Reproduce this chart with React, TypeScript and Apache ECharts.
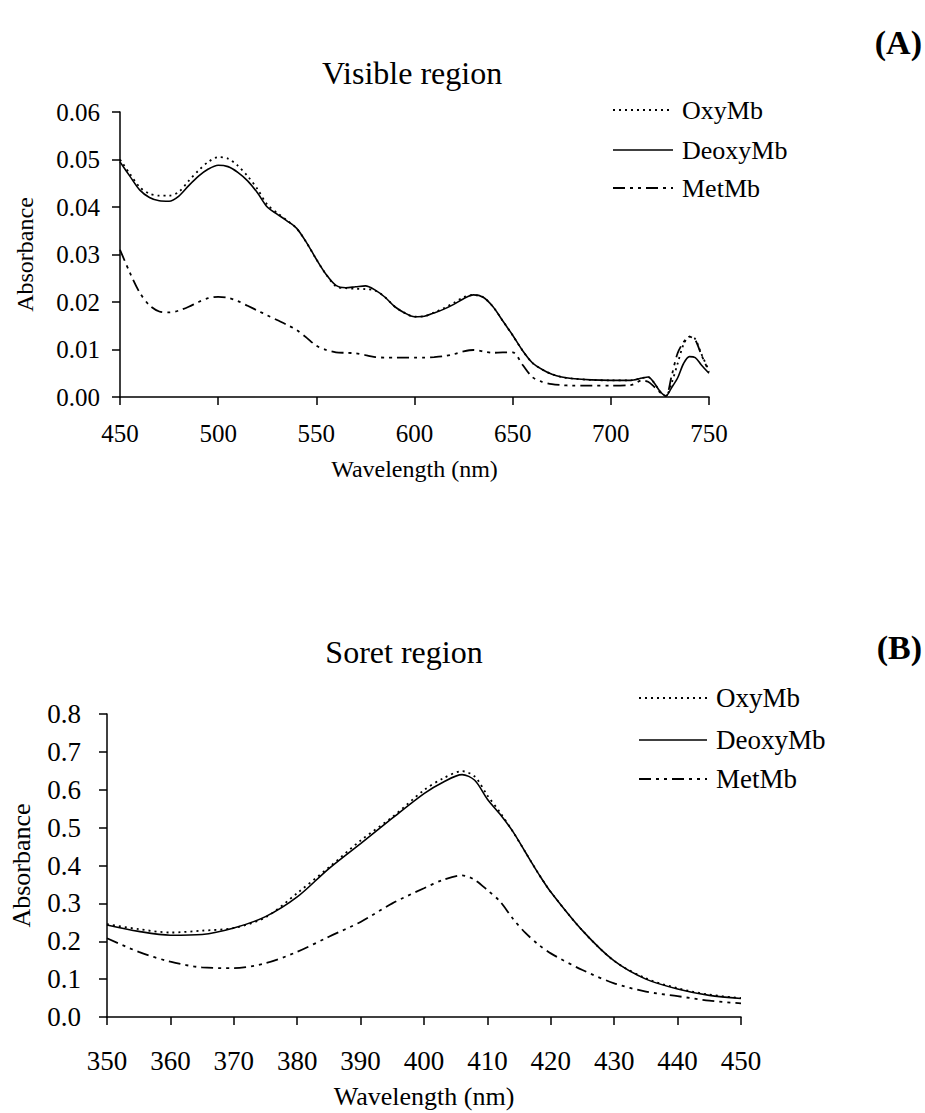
import { useEffect, useRef } from "react";
import * as echarts from "echarts";

// ---------- Panel A : visible region ----------
const wavelengthA = [450, 455, 460, 465, 470, 475, 480, 485, 490, 495, 500, 505, 510, 515, 520, 525, 530, 535, 540, 545, 550, 555, 560, 565, 570, 575, 580, 585, 590, 595, 600, 605, 610, 615, 620, 625, 630, 635, 640, 645, 650, 655, 660, 665, 670, 675, 680, 690, 700, 710, 716, 719, 722, 725, 728, 731, 734, 737, 740, 743, 746, 750];
const oxyA = [0.05, 0.047, 0.0442, 0.0428, 0.0424, 0.0424, 0.0432, 0.0455, 0.0477, 0.0495, 0.0505, 0.0502, 0.0487, 0.0465, 0.0438, 0.0405, 0.0388, 0.0372, 0.0355, 0.0325, 0.029, 0.0258, 0.0233, 0.0229, 0.0228, 0.0227, 0.0224, 0.021, 0.019, 0.0177, 0.0169, 0.017, 0.0178, 0.0187, 0.0198, 0.021, 0.0215, 0.021, 0.019, 0.016, 0.013, 0.0098, 0.0072, 0.0058, 0.0048, 0.0042, 0.0039, 0.0036, 0.0035, 0.0035, 0.004, 0.0042, 0.003, 0.0012, 0.0002, 0.003, 0.007, 0.011, 0.0127, 0.0122, 0.0092, 0.0055];
const deoxyA = [0.0495, 0.0465, 0.0436, 0.042, 0.0413, 0.0412, 0.0423, 0.0445, 0.0465, 0.048, 0.0488, 0.0485, 0.0473, 0.0455, 0.043, 0.04, 0.0385, 0.0371, 0.0355, 0.0325, 0.029, 0.0258, 0.0235, 0.023, 0.0232, 0.0234, 0.0225, 0.021, 0.019, 0.0177, 0.0169, 0.017, 0.0177, 0.0185, 0.0195, 0.0207, 0.0215, 0.021, 0.019, 0.016, 0.013, 0.0098, 0.0072, 0.0058, 0.0048, 0.0042, 0.0039, 0.0036, 0.0035, 0.0035, 0.004, 0.0042, 0.003, 0.0012, 0.0002, 0.002, 0.004, 0.007, 0.0085, 0.0083, 0.0068, 0.005];
const metA = [0.031, 0.0262, 0.022, 0.0193, 0.018, 0.0178, 0.0182, 0.019, 0.02, 0.0208, 0.0211, 0.0209, 0.0202, 0.0192, 0.0182, 0.0172, 0.0162, 0.0152, 0.0141, 0.0125, 0.0108, 0.0099, 0.0094, 0.0093, 0.0092, 0.0088, 0.0084, 0.0083, 0.0083, 0.0083, 0.0083, 0.0083, 0.0084, 0.0086, 0.009, 0.0096, 0.0099, 0.0096, 0.0093, 0.0094, 0.0094, 0.0068, 0.0042, 0.0032, 0.0027, 0.0025, 0.0024, 0.0024, 0.0024, 0.0025, 0.0035, 0.0032, 0.0022, 0.001, 0.0002, 0.0045, 0.0092, 0.0115, 0.0127, 0.012, 0.009, 0.0053];

// ---------- Panel B : Soret region ----------
const wavelengthB = [350, 355, 360, 365, 370, 375, 380, 385, 390, 395, 400, 403, 406, 408, 410, 412, 414, 416, 418, 420, 425, 430, 435, 440, 445, 450];
const oxyB = [0.245, 0.232, 0.223, 0.228, 0.235, 0.263, 0.327, 0.395, 0.466, 0.528, 0.599, 0.63, 0.649, 0.635, 0.585, 0.54, 0.49, 0.435, 0.38, 0.33, 0.228, 0.148, 0.102, 0.076, 0.059, 0.05];
const deoxyB = [0.243, 0.226, 0.216, 0.218, 0.235, 0.265, 0.317, 0.392, 0.458, 0.525, 0.59, 0.62, 0.64, 0.625, 0.575, 0.535, 0.49, 0.435, 0.38, 0.33, 0.228, 0.148, 0.1, 0.074, 0.057, 0.049];
const metB = [0.208, 0.172, 0.146, 0.131, 0.129, 0.142, 0.172, 0.212, 0.251, 0.3, 0.34, 0.362, 0.374, 0.362, 0.335, 0.305, 0.26, 0.222, 0.192, 0.168, 0.124, 0.089, 0.067, 0.055, 0.043, 0.036];

const seriesNames = ["OxyMb", "DeoxyMb", "MetMb"];
const panelTitles = ["Visible region", "Soret region"];
const panelLetters = ["(A)", "(B)"];
const xAxisName = "Wavelength (nm)";
const yAxisName = "Absorbance";

const FONT = "Liberation Serif";
const dashStyles: any[] = [[2, 4], "solid", [12, 5, 3, 5, 3, 5]];

const pair = (xs: number[], ys: number[]) => xs.map((x, i) => [x, ys[i]]);

export default function App() {
  const ref = useRef<HTMLDivElement>(null);
  useEffect(() => {
    const chart = echarts.init(ref.current!, null, { renderer: "svg" });

    const axisCommon = (fs: number, margin: number) => ({
      axisLine: { onZero: false, lineStyle: { color: "#000", width: 1.5 } },
      axisTick: { show: true, inside: false, length: 8, lineStyle: { color: "#000", width: 1.5 } },
      splitLine: { show: false },
      axisLabel: { color: "#000", fontSize: fs, fontFamily: FONT, margin },
    });

    const mkSeries = (data: number[][][], idx: number) =>
      data.map((d, i) => ({
        name: seriesNames[i],
        type: "line",
        xAxisIndex: idx,
        yAxisIndex: idx,
        data: d,
        symbol: "none",
        showSymbol: false,
        smooth: 0.3,
        lineStyle: { color: "#000", width: i === 1 ? 1.6 : 1.8, type: dashStyles[i] },
        z: 3 - i,
      }));

    const legendGraphic = (x0: number, x1: number, ys: number[], fs: number) =>
      ys.flatMap((y, i) => [
        {
          type: "line",
          shape: { x1: x0, y1: y, x2: x1, y2: y },
          style: { stroke: "#000", lineWidth: i === 1 ? 1.6 : 1.8, lineDash: dashStyles[i] === "solid" ? null : dashStyles[i] },
        },
        {
          type: "text",
          x: x1 + 9,
          y,
          style: { text: seriesNames[i], fontSize: fs, fontFamily: FONT, fill: "#000", textVerticalAlign: "middle", textAlign: "left" },
        },
      ]);

    const txt = (text: string, x: number, y: number, fs: number, align: string, bold = false) => ({
      type: "text",
      x,
      y,
      style: { text, fontSize: fs, fontFamily: FONT, fontWeight: bold ? "bold" : "normal", fill: "#000", textAlign: align, textVerticalAlign: "middle" },
    });

    const option: any = {
      animation: false,
      backgroundColor: "#fff",
      grid: [
        { left: 120, top: 112, width: 589, height: 285 },
        { left: 107, top: 714, width: 634, height: 303 },
      ],
      xAxis: [
        {
          type: "value", gridIndex: 0, min: 450, max: 750, interval: 50,
          ...axisCommon(25, 24),
          name: xAxisName, nameLocation: "middle", nameGap: 60,
          nameTextStyle: { color: "#000", fontSize: 24, fontFamily: FONT },
        },
        {
          type: "value", gridIndex: 1, min: 350, max: 450, interval: 10,
          ...axisCommon(27, 30),
          name: xAxisName, nameLocation: "middle", nameGap: 66,
          nameTextStyle: { color: "#000", fontSize: 26, fontFamily: FONT },
        },
      ],
      yAxis: [
        {
          type: "value", gridIndex: 0, min: 0, max: 0.06, interval: 0.01,
          ...axisCommon(25, 20),
          axisLabel: { color: "#000", fontSize: 25, fontFamily: FONT, margin: 20, formatter: (v: number) => v.toFixed(2) },
          name: yAxisName, nameLocation: "middle", nameGap: 83, nameRotate: 90,
          nameTextStyle: { color: "#000", fontSize: 24, fontFamily: FONT },
        },
        {
          type: "value", gridIndex: 1, min: 0, max: 0.8, interval: 0.1,
          ...axisCommon(27, 26),
          axisLabel: { color: "#000", fontSize: 27, fontFamily: FONT, margin: 26, formatter: (v: number) => v.toFixed(1) },
          name: yAxisName, nameLocation: "middle", nameGap: 73, nameRotate: 90,
          nameTextStyle: { color: "#000", fontSize: 26, fontFamily: FONT },
        },
      ],
      series: [
        ...mkSeries([pair(wavelengthA, oxyA), pair(wavelengthA, deoxyA), pair(wavelengthA, metA)], 0),
        ...mkSeries([pair(wavelengthB, oxyB), pair(wavelengthB, deoxyB), pair(wavelengthB, metB)], 1),
      ],
      graphic: [
        txt(panelTitles[0], 412, 73, 32, "center"),
        txt(panelTitles[1], 404, 652, 32, "center"),
        txt(panelLetters[0], 922, 42, 34, "right", true),
        txt(panelLetters[1], 922, 647, 34, "right", true),
        ...legendGraphic(613, 673, [110, 150, 188], 26),
        ...legendGraphic(639, 707, [698, 740, 779], 27),
      ],
    };
    chart.setOption(option);
    return () => chart.dispose();
  }, []);
  return (
    <div
      ref={ref}
      style={{ position: "absolute", left: 0, top: 0, width: 925, height: 1113, background: "#fff" }}
    />
  );
}
